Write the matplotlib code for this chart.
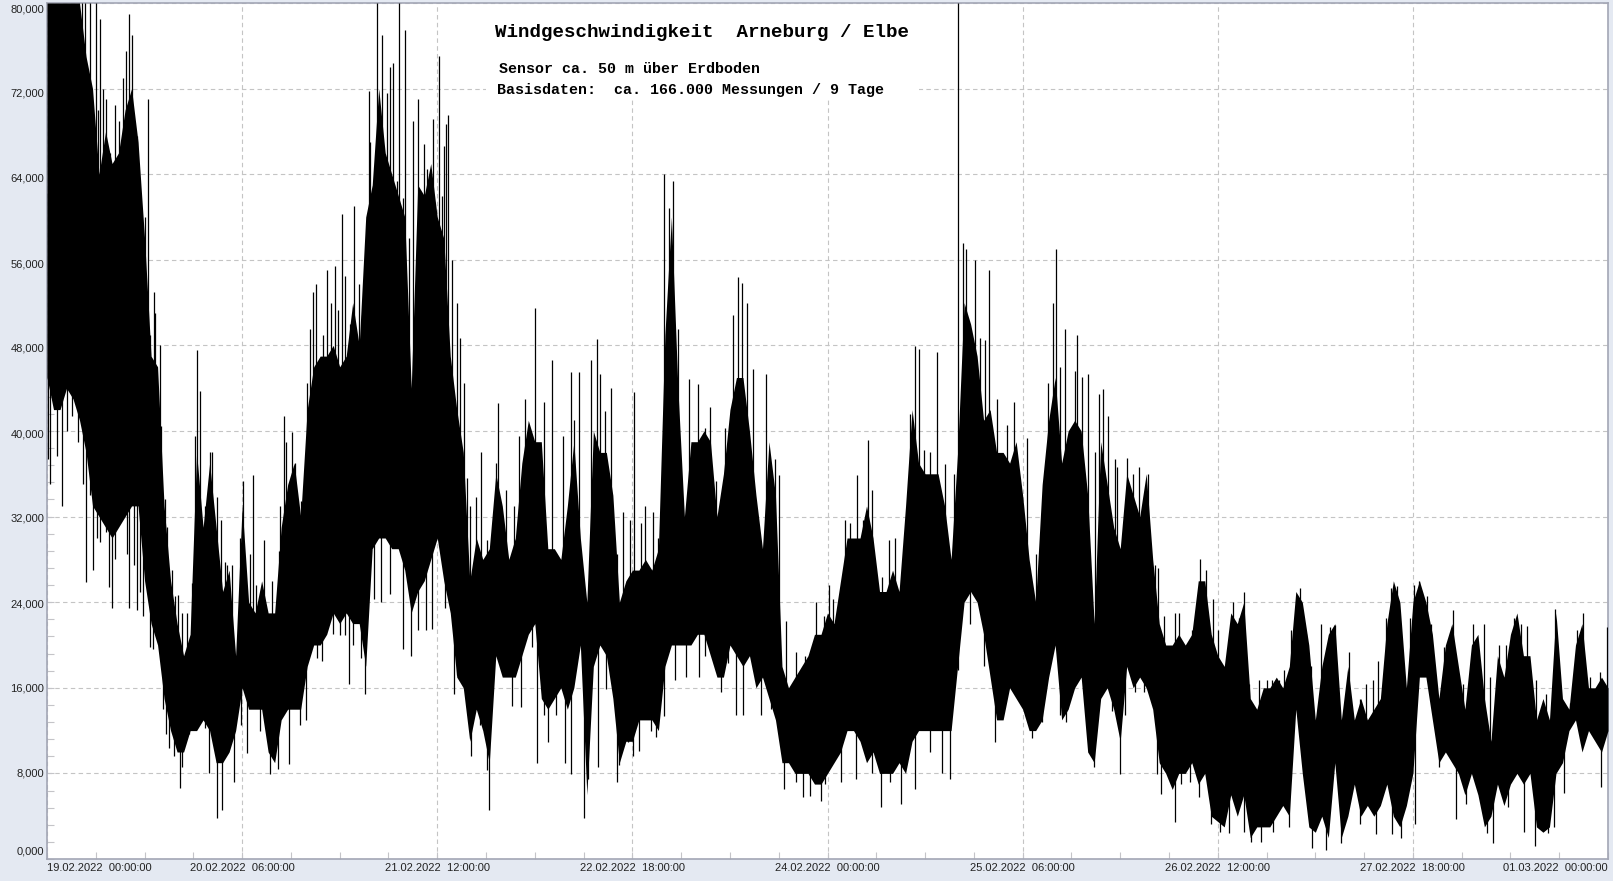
import numpy as np
import matplotlib
matplotlib.use('Agg')
import matplotlib.pyplot as plt
from matplotlib.patches import Rectangle

core_hours = np.arange(0, 241)
core_high = [80, 80, 80, 80, 80, 80, 75, 72, 64, 68,
             65, 66, 70, 72, 67, 58, 47, 46, 33, 26,
             22, 19, 21, 38, 31, 37, 31, 25, 27, 19,
             33, 24, 23, 26, 23, 23, 31, 35, 37, 32,
             42, 46, 47, 47, 48, 46, 47, 52, 48, 60,
             63, 72, 66, 64, 62, 60, 44, 63, 62, 65,
             60, 58, 47, 42, 38, 26, 30, 28, 29, 36,
             33, 28, 30, 37, 41, 39, 39, 29, 29, 28,
             33, 39, 30, 24, 40, 38, 38, 34, 24, 26,
             27, 27, 28, 27, 29, 49, 60, 44, 32, 39,
             39, 40, 39, 32, 36, 42, 45, 45, 40, 34,
             29, 39, 34, 18, 16, 17, 18, 19, 21, 21,
             23, 22, 26, 30, 30, 30, 33, 30, 25, 25,
             27, 25, 33, 42, 37, 36, 36, 36, 33, 28,
             38, 52, 50, 47, 41, 42, 38, 38, 37, 39,
             34, 28, 24, 35, 41, 45, 37, 40, 41, 40,
             34, 22, 39, 35, 31, 29, 36, 34, 32, 36,
             28, 22, 20, 20, 21, 20, 21, 26, 26, 21,
             19, 18, 23, 22, 24, 15, 14, 16, 16, 17,
             16, 18, 25, 24, 20, 13, 18, 21, 22, 13,
             18, 13, 15, 13, 14, 15, 22, 26, 24, 16,
             24, 26, 24, 21, 15, 20, 22, 18, 14, 20,
             21, 15, 11, 19, 17, 21, 23, 19, 19, 13,
             15, 13, 23, 15, 14, 20, 22, 16, 16, 17, 16]
core_low = [45, 42, 42, 44, 43, 41, 38, 33, 32, 31,
            30, 31, 32, 33, 33, 26, 22, 20, 15, 12,
            10, 10, 12, 12, 13, 12, 9, 9, 10, 12,
            16, 14, 14, 14, 10, 9, 13, 14, 14, 14,
            18, 20, 20, 21, 23, 22, 23, 22, 22, 18,
            29, 30, 30, 29, 29, 27, 23, 25, 26, 28,
            30, 26, 23, 17, 16, 11, 14, 12, 9, 19,
            17, 17, 17, 19, 21, 22, 15, 14, 15, 16,
            14, 16, 20, 6, 18, 20, 19, 15, 9, 11,
            11, 13, 13, 13, 12, 18, 20, 20, 20, 20,
            21, 21, 19, 17, 17, 20, 19, 18, 19, 16,
            17, 15, 13, 9, 9, 8, 8, 8, 7, 7,
            8, 9, 10, 12, 12, 11, 9, 10, 8, 8,
            8, 9, 8, 11, 12, 12, 12, 12, 12, 12,
            18, 24, 25, 24, 21, 17, 13, 13, 16, 15,
            14, 12, 12, 13, 17, 20, 13, 14, 16, 17,
            10, 9, 15, 16, 14, 11, 18, 16, 17, 16,
            14, 9, 8, 6.5, 8, 8, 9, 7, 8, 4,
            3.5, 3, 6, 4, 6, 2, 3, 3, 3, 4,
            5, 4, 14, 8, 3, 2.5, 4, 2, 9, 2,
            4, 7, 4, 5, 4, 5, 7, 4, 3, 5,
            8, 17, 17, 13, 9, 10, 9, 8, 6, 8,
            6, 3, 4, 7, 5, 7, 8, 7, 8, 3,
            2.5, 3, 8, 9, 12, 13, 10, 12, 11, 10, 12]

# Spitzen nach oben: Stunde, Wert
peak_hours = [5.4, 5.9, 6.6, 7.5, 8.2, 7.3, 7.8, 8.6, 9.1, 9.7, 10.4, 11.1, 11.7, 12.1, 12.6, 13, 13.9, 14.5, 15, 15.5,
              15.9, 16.4, 16.6, 17.3, 17.6, 18.2, 18.5, 19.2, 19.7, 20.1, 20.8, 21.5, 22.3, 22.8, 23.1, 23.5, 24.3, 25.1, 25.4, 26.1,
              26.7, 27.3, 27.7, 28.4, 29.6, 30.2, 31.2, 31.7, 32.2, 33.4, 34.6, 35.7, 35.8, 36.5, 36.8, 37.6, 38.1, 39, 40, 40.5,
              40.9, 41.4, 41.8, 42.4, 43.1, 43.7, 44.3, 44.7, 45.4, 45.8, 46.6, 47.2, 48, 48.4, 49, 49.5, 49.7, 50.8, 51.5, 52.3,
              52.7, 53.2, 53.8, 54.1, 54.7, 55.1, 55.6, 56.3, 57.1, 57.5, 58, 58.4, 59.4, 60.3, 60.7, 61.1, 61.4, 61.7, 62.3, 63.1,
              63.5, 64.1, 64.5, 65, 65.9, 66.8, 67.6, 68.1, 69, 69.3, 70.5, 71.8, 72.6, 73.5, 75.1,
              76.4, 77.7, 79.3, 80.5, 81.1, 81.8, 83.6, 84.5, 85, 85.8, 86.7, 87.7, 88.5, 89.6, 90.3, 91.3, 91.9, 93.2, 93.9, 94.8,
              95.7, 96.3, 97, 98.7, 100.1, 101.2, 101.9, 102.9, 104.2, 105.4, 106.3, 106.8, 107.6, 108.6, 110.6, 111.9, 112.5, 113.6, 115.1, 116.5,
              118.2, 119.4, 120.3, 120.8, 122.7, 123.5, 124.6, 125.5, 126.3, 126.8, 128.4, 129.5, 130.4, 131.3, 132.7, 133.4, 134.1, 134.8, 135.7, 136.8,
              138, 139.5, 140.1, 140.9, 141.3, 142.7, 143.5, 144.2, 144.9, 146.1, 147.6, 148.7, 150.7, 152, 153.9, 154.6, 155.2, 155.8, 156.5, 158,
              158.3, 159.1, 160, 161.1, 161.7, 162.3, 163.2, 164.2, 164.5, 166, 166.9, 167.9, 169.2, 170.4, 170.8, 171.8, 173.4, 174.1, 176.1, 177.2,
              178.2, 179.3, 180, 181.4, 182.3, 183.2, 184, 184.8, 186.4, 187.5, 188.4, 189.4, 190.2, 191.2, 192.6, 193.6, 194.3, 195.8, 197.3, 198,
              200.2, 201.8, 202.8, 203.9, 204.7, 205.8, 206.6, 207.5, 208.1, 209.5, 210.2, 211, 212.1, 212.8, 214.8, 216.1, 217.7, 219.3, 220.9, 221.9,
              223.2, 224.3, 225.5, 226.6, 227.6, 229, 230.5, 231.9, 234.1, 235.2, 236.2, 237.3, 238.8, 239.8]
peak_values = [80, 80, 80, 80, 78.5, 67, 70, 72, 71, 66, 70.5, 69, 73, 75.5, 79, 77, 67.6, 58, 60, 71,
               49, 53, 51, 48, 40.5, 33.6, 31, 27, 24.6, 24.7, 23, 23, 25.8, 39.5, 47.6, 43.7, 33, 38, 38, 33.8,
               31.7, 27.8, 27.5, 27.5, 30, 35.3, 28.5, 35.9, 25.6, 29.8, 26, 28.8, 33, 41.4, 39, 39.9, 37, 33.5, 44.5, 49.5,
               53, 53.7, 44.8, 49, 55, 52, 55.4, 51.3, 60.3, 54.5, 50, 61, 53.7, 50.8, 55.8, 71.8, 67, 80, 77, 71.6,
               74, 74.4, 63.4, 80, 61.8, 77.5, 58, 69, 71, 52.4, 66.8, 64.5, 69.2, 75, 62, 66.6, 68.7, 69.5, 56, 52,
               48.7, 44.5, 35.6, 33, 33.8, 38, 29.8, 27.7, 37, 42.6, 34.5, 33, 39.5, 43, 51.5,
               42.7, 46.6, 39.5, 45.5, 41, 45.5, 46.6, 48.6, 45.3, 41.9, 44, 28.5, 32.4, 31.7, 43.6, 31.4, 33, 32.4, 30, 64,
               60.8, 63.4, 49.5, 44.9, 44.4, 40.3, 42.2, 35.3, 40.3, 50.8, 54.4, 53.8, 52, 45.8, 45.3, 37.4, 35.9, 22.2, 19.3, 19,
               24, 22.7, 25.6, 24.3, 31.7, 31.4, 35.9, 31.7, 39.2, 34.5, 26.4, 29.8, 30, 24.6, 41.6, 47.9, 47.7, 38.2, 38, 47.4,
               36.9, 36, 80, 57.6, 57, 56, 48.7, 48.5, 55, 43, 40.6, 42.7, 39.3, 28.5, 44.5, 52, 57, 46, 49.5, 45.6,
               49, 45, 45.3, 38, 43.5, 43.9, 41.4, 37.4, 36.6, 37.5, 36, 36.6, 36, 27.5, 27.2, 22.7, 23, 23, 21.4, 28,
               27, 24.3, 21.4, 18, 24, 22.5, 25, 16.4, 16.7, 16.7, 16.7, 16.7, 17.7, 21.4, 25.3, 21, 18, 22, 21.7, 21.9,
               19.3, 15, 16.4, 16.7, 18.5, 22.5, 25.3, 25.5, 18, 22.5, 25.6, 26, 24.6, 22, 19.8, 23.3, 16.4, 22, 22, 17,
               20, 20, 22.5, 22, 21.8, 16.7, 15.4, 23.4, 14.6, 21.4, 23, 17, 17.5, 21.7]

# Spitzen nach unten
dip_hours = [0.2, 0.4, 1, 1.5, 2.3, 3, 3.9, 4.7, 5.5, 6, 6.6, 7, 7.7, 8.1, 9.1, 9.6, 10, 10.4, 11.1, 12.3,
             12.6, 13.4, 13.8, 14.3, 14.8, 15.8, 16.3, 16.8, 17.8, 18.3, 18.7, 19.5, 20.4, 20.8, 21.8, 23.4, 24.3, 24.9, 26.2, 26.9,
             28.7, 29.8, 30.8, 31.7, 32.7, 34.3, 35.5, 37.2, 38.9, 39.8, 40.5, 41.5, 42.3, 43.9, 45, 45.8, 46.5, 47.1, 48.2, 48.9,
             50.3, 51.4, 52.7, 54.8, 56, 57.1, 58.3, 59.2, 61.2, 62.5, 63, 64.7, 65.2, 66.5, 67.7, 68, 69.1, 69.9, 71.5, 72.9,
             74.5, 75.3, 76.4, 77.1, 78.3, 79.7, 80.6, 81.5, 82.6, 83.2, 84.7, 86, 87.6, 87.9, 89.3, 90.1, 91, 92.9, 93.6, 94.9,
             96.6, 98.3, 100.3, 101.2, 103.6, 104.7, 105.9, 107, 108.5, 109.7, 111.3, 112.2, 113.3, 115.1, 116.2, 117.3, 119, 119.6, 122, 124.4,
             126.8, 128.2, 129.6, 131.3, 132, 133.4, 135.7, 137.6, 138.9, 140, 141.9, 144, 145.7, 147.8, 149.1, 151.4, 153, 155.7, 156.6, 157.6,
             159.9, 160.9, 162.6, 163.8, 165, 165.7, 167.3, 168.7, 170.6, 171.3, 173.4, 174.3, 175.8, 177.1, 179, 180.3, 181.7, 184, 185.1, 186.7,
             188.5, 190.9, 192.8, 194.5, 196.7, 198.9, 201.8, 204.4, 206.8, 208.1, 210.4, 214, 216.6, 218.2, 221.4, 222.3, 224.7, 227.1, 228.8, 230.7,
             231.7, 233.2, 235.7, 237.8, 238.9]
dip_values = [37.4, 35, 43.7, 37.7, 33, 40, 41.4, 39, 35, 25.9, 34, 27, 30, 29.6, 30.6, 25.4, 23.5, 28, 33.5, 28.5,
              23.5, 27.5, 23.3, 25, 22.7, 19.8, 19.6, 21.7, 14, 11.7, 10.4, 9.6, 6.6, 8.6, 11.7, 12.8, 12.2, 8, 3.8, 4.6,
              7.2, 12.5, 9.9, 14.6, 12, 7.9, 8.4, 8.9, 12.5, 13, 19.6, 18.8, 18.5, 21, 20.9, 20.9, 16.4, 20, 18.8, 15.4,
              24.3, 24, 24.8, 19.6, 19, 21.4, 21.4, 21.5, 23.5, 15.4, 17.2, 13.5, 9.6, 12.5, 8.3, 4.6, 20.9, 18.8, 14.3, 14.2,
              19.8, 9, 13.5, 10.9, 13.5, 9, 7.9, 18.8, 3.8, 7.5, 8.6, 15.9, 7.2, 8.8, 10.9, 9.6, 10.1, 12, 11.4, 13.4,
              16.7, 17, 17, 19, 15.6, 18.3, 13.5, 13.5, 18.3, 13.5, 14, 15.9, 6.5, 7.2, 5.8, 5.9, 5.4, 7, 7.2, 7.5,
              8, 4.9, 7.2, 5.1, 8.8, 6.5, 10, 8, 7.5, 17.7, 22, 18, 10.9, 17.5, 15.6, 11.3, 12.8, 13.5, 12.8, 15.9,
              13.3, 8.6, 15.9, 13.8, 7.9, 13.5, 15.6, 15.6, 7.9, 6.1, 3.5, 7, 7.2, 5.8, 3.3, 2.5, 2.4, 2.5, 1.6, 1.6,
              2.5, 3, 12, 1, 0.8, 1.5, 3.3, 2.3, 2.3, 2, 3.3, 8.6, 3.7, 5.1, 2.4, 1.5, 4.9, 2.5, 1.2, 2.4,
              3, 6.2, 12, 11.7, 6.7]

y_ticks = [0, 8, 16, 24, 32, 40, 48, 56, 64, 72, 80]
y_labels = ['0,000', '8,000', '16,000', '24,000', '32,000', '40,000', '48,000', '56,000', '64,000', '72,000', '80,000']
# die Beschriftung sitzt im Original nicht genau auf dem Gitter
y_label_pos = [0.7, 8.0, 15.9, 23.8, 31.8, 39.7, 47.7, 55.6, 63.6, 71.5, 79.4]
x_ticks = [0, 30, 60, 90, 120, 150, 180, 210, 240]
x_labels = ['19.02.2022  00:00:00', '20.02.2022  06:00:00', '21.02.2022  12:00:00', '22.02.2022  18:00:00',
            '24.02.2022  00:00:00', '25.02.2022  06:00:00', '26.02.2022  12:00:00', '27.02.2022  18:00:00',
            '01.03.2022  00:00:00']

W, H = 1613, 881
L, R, T, B = 47, 1608, 3, 859
fig = plt.figure(figsize=(W / 100, H / 100), dpi=100, facecolor='#E4E9F2')
ax = fig.add_axes([L / W, 1 - B / H, (R - L) / W, (B - T) / H], facecolor='white')
ax.set_xlim(0, 240)
ax.set_ylim(0, 80)

ax.set_xticks(x_ticks)
ax.set_xticks(np.arange(0, 247.5, 7.5), minor=True)
ax.set_yticks(y_ticks)
ax.set_yticks(np.arange(0, 81.6, 1.6), minor=True)
ax.set_xticklabels([])
ax.set_yticklabels([])
ax.tick_params(which='both', direction='in', length=5, width=0.8, color='#C4C4C8', labelbottom=False, labelleft=False)
ax.grid(True, which='major', color='#C4C4C4', linewidth=0.8, linestyle=(0, (4, 3)))
ax.set_axisbelow(True)
for s in ax.spines.values():
    s.set_color('#A3A6B5')
    s.set_linewidth(1.2)

# weisser Kasten hinter dem Titel unterbricht das Gitter
ax.add_patch(Rectangle((67.5, 71.0), 66.5, 8.7, facecolor='white', edgecolor='none', zorder=1.5))

ax.fill_between(core_hours, core_low, core_high, color='black', linewidth=0, zorder=3)
core_mid = (np.array(core_low) + np.array(core_high)) / 2
ax.vlines(peak_hours, np.interp(peak_hours, core_hours, core_mid), peak_values, color='black', linewidth=0.9, zorder=3)
ax.vlines(dip_hours, dip_values, np.interp(dip_hours, core_hours, core_mid), color='black', linewidth=0.9, zorder=3)

for v, lab in zip(y_label_pos, y_labels):
    ax.text(-0.4, v, lab, ha='right', va='center', fontsize=8, family='Liberation Sans', color='#222222', clip_on=False)
for i, (t, lab) in enumerate(zip(x_ticks, x_labels)):
    ha = 'left' if i == 0 else 'right' if i == len(x_ticks) - 1 else 'center'
    ax.text(t, -0.8, lab, ha=ha, va='center', fontsize=8, family='Liberation Sans', color='#222222', clip_on=False)

ax.text(68.9, 77.2, 'Windgeschwindigkeit  Arneburg / Elbe', fontsize=13.8, family='Liberation Mono', weight='bold', va='center', zorder=5)
ax.text(69.5, 73.8, 'Sensor ca. 50 m über Erdboden', fontsize=10.8, family='Liberation Mono', weight='bold', va='center', zorder=5)
ax.text(69.2, 71.9, 'Basisdaten:  ca. 166.000 Messungen / 9 Tage', fontsize=10.8, family='Liberation Mono', weight='bold', va='center', zorder=5)

fig.savefig('out.png', dpi=100, facecolor=fig.get_facecolor())
